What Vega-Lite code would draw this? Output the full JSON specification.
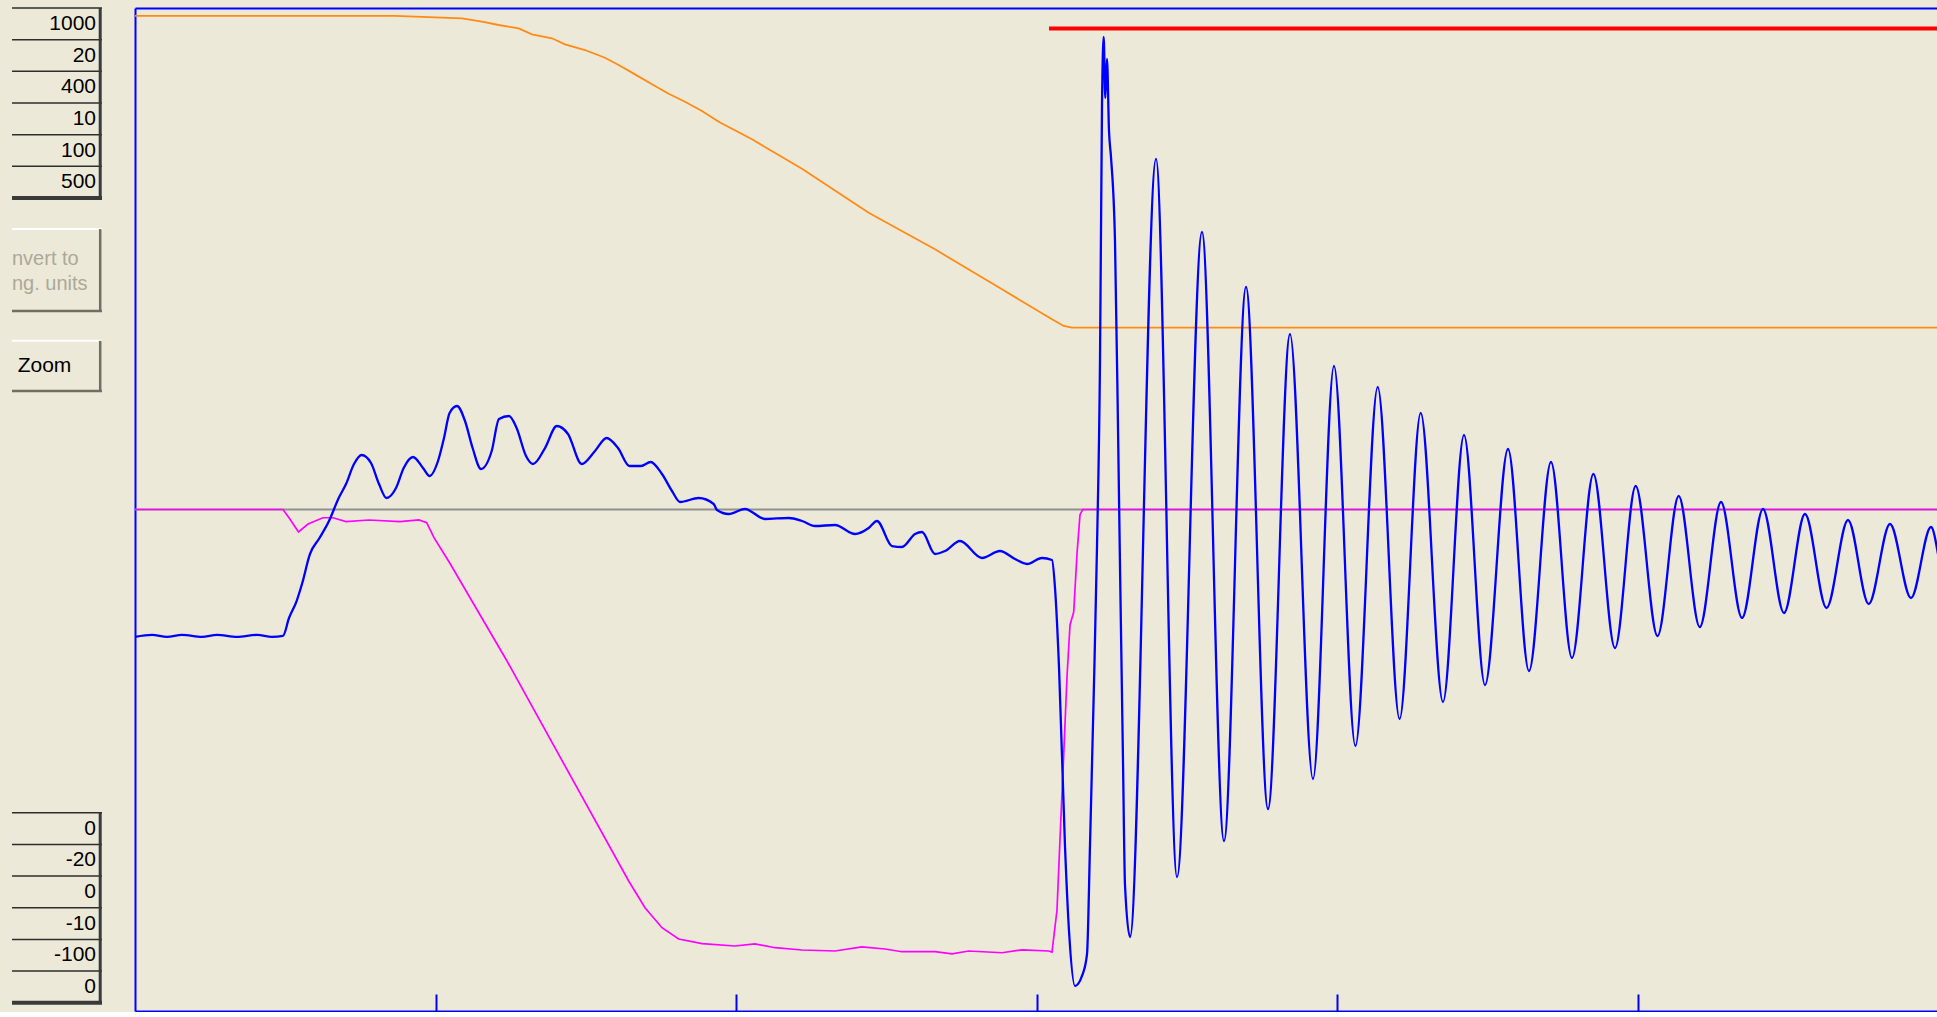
{
  "$schema": "https://vega.github.io/schema/vega-lite/v6.json",
  "background": "#ECE9D8",
  "padding": {"left": 10, "top": 6, "right": 0, "bottom": 0},
  "spacing": 33,
  "bounds": "flush",
  "config": {"view": {"stroke": null}},
  "resolve": {"scale": {"x": "independent", "y": "independent"}},
  "datasets": {
    "fields": [
      {"label": "1000", "s0": 0, "s1": 1, "sm": 0.5},
      {"label": "20", "s0": 1, "s1": 2, "sm": 1.5},
      {"label": "400", "s0": 2, "s1": 3, "sm": 2.5},
      {"label": "10", "s0": 3, "s1": 4, "sm": 3.5},
      {"label": "100", "s0": 4, "s1": 5, "sm": 4.5},
      {"label": "500", "s0": 5, "s1": 6, "sm": 5.5},
      {"label": "0", "s0": 25.41, "s1": 26.41, "sm": 25.91},
      {"label": "-20", "s0": 26.41, "s1": 27.41, "sm": 26.91},
      {"label": "0", "s0": 27.41, "s1": 28.41, "sm": 27.91},
      {"label": "-10", "s0": 28.41, "s1": 29.41, "sm": 28.91},
      {"label": "-100", "s0": 29.41, "s1": 30.41, "sm": 29.91},
      {"label": "0", "s0": 30.41, "s1": 31.41, "sm": 30.91}
    ],
    "groups": [
      {"s0": 0, "s1": 6},
      {"s0": 25.41, "s1": 31.41}
    ],
    "buttons": [
      {"name": "convert", "text": ["nvert to", "ng. units"], "s0": 6.98, "s1": 9.57, "sm": 7.93},
      {"name": "zoom", "text": "Zoom", "s0": 10.51, "s1": 12.09, "sm": 11.3}
    ],
    "baseline": [{"v": 0}],
    "marker": [{"t0": 3.0416, "t1": 6, "v": 95.9}],
    "orange": [
      {"t": 0, "v": 98.41}, {"t": 0.8652, "v": 98.41}, {"t": 1.0882, "v": 97.95}, {"t": 1.1547, "v": 97.27},
      {"t": 1.2103, "v": 96.61}, {"t": 1.2769, "v": 95.95}, {"t": 1.3211, "v": 94.75}, {"t": 1.3877, "v": 93.96},
      {"t": 1.4309, "v": 92.76}, {"t": 1.4975, "v": 91.62}, {"t": 1.5641, "v": 90.09}, {"t": 1.6096, "v": 88.63},
      {"t": 1.6639, "v": 86.77}, {"t": 1.7205, "v": 84.78}, {"t": 1.776, "v": 82.91}, {"t": 1.8303, "v": 81.31},
      {"t": 1.8869, "v": 79.46}, {"t": 1.9424, "v": 77.33}, {"t": 2.0532, "v": 73.82}, {"t": 2.2196, "v": 67.96},
      {"t": 2.4416, "v": 59.18}, {"t": 2.6622, "v": 51.88}, {"t": 2.8852, "v": 43.91}, {"t": 3.0516, "v": 37.93},
      {"t": 3.0905, "v": 36.59}, {"t": 3.1181, "v": 36.25}, {"t": 6, "v": 36.25}
    ],
    "magenta": [
      {"t": 0, "v": 0}, {"t": 0.4925, "v": 0}, {"t": 0.5125, "v": -1.64}, {"t": 0.5441, "v": -4.49},
      {"t": 0.5757, "v": -2.89}, {"t": 0.6256, "v": -1.64}, {"t": 0.6589, "v": -1.64}, {"t": 0.7022, "v": -2.43},
      {"t": 0.7787, "v": -2.09}, {"t": 0.8819, "v": -2.43}, {"t": 0.9451, "v": -2.09}, {"t": 0.9707, "v": -2.63},
      {"t": 0.995, "v": -5.62}, {"t": 1.0469, "v": -10.61}, {"t": 1.2379, "v": -30.21}, {"t": 1.6429, "v": -74.08},
      {"t": 1.6972, "v": -79.4}, {"t": 1.7537, "v": -83.39}, {"t": 1.8093, "v": -85.64}, {"t": 1.8869, "v": -86.58},
      {"t": 1.9967, "v": -87.04}, {"t": 2.063, "v": -86.6}, {"t": 2.1298, "v": -87.38}, {"t": 2.2196, "v": -87.84},
      {"t": 2.3295, "v": -88.04}, {"t": 2.419, "v": -87.2}, {"t": 2.4958, "v": -87.64}, {"t": 2.5524, "v": -88.18},
      {"t": 2.6622, "v": -88.18}, {"t": 2.719, "v": -88.6}, {"t": 2.7744, "v": -88.04}, {"t": 2.8852, "v": -88.38},
      {"t": 2.952, "v": -87.8}, {"t": 3.0406, "v": -88.04}, {"t": 3.0516, "v": -88.24}, {"t": 3.0682, "v": -79.86},
      {"t": 3.0782, "v": -65.7}, {"t": 3.0905, "v": -48.95}, {"t": 3.1015, "v": -33.4}, {"t": 3.1115, "v": -23.03},
      {"t": 3.1238, "v": -20.44}, {"t": 3.1348, "v": -8.81}, {"t": 3.1448, "v": -1.02}, {"t": 3.1537, "v": 0},
      {"t": 6, "v": 0}
    ],
    "blue": [
      {"t": 0, "v": -25.4}, {"t": 0.0566, "v": -25.0}, {"t": 0.1065, "v": -25.4}, {"t": 0.1564, "v": -25.0},
      {"t": 0.223, "v": -25.4}, {"t": 0.2729, "v": -25.0}, {"t": 0.3394, "v": -25.4}, {"t": 0.406, "v": -25.0},
      {"t": 0.4559, "v": -25.4}, {"t": 0.4925, "v": -25.2},
      {"t": 0.5125, "v": -21.64}, {"t": 0.5378, "v": -18.25}, {"t": 0.5557, "v": -14.86}, {"t": 0.5824, "v": -8.87},
      {"t": 0.614, "v": -5.68}, {"t": 0.6456, "v": -2.29}, {"t": 0.6779, "v": 2.29}, {"t": 0.7022, "v": 5.08},
      {"t": 0.7288, "v": 9.07}, {"t": 0.7541, "v": 10.87}, {"t": 0.7854, "v": 9.27}, {"t": 0.812, "v": 5.08},
      {"t": 0.8369, "v": 2.29}, {"t": 0.8686, "v": 4.29}, {"t": 0.8942, "v": 8.28}, {"t": 0.9251, "v": 10.47},
      {"t": 0.9584, "v": 8.28}, {"t": 0.9807, "v": 6.68}, {"t": 1.0083, "v": 9.67}, {"t": 1.0283, "v": 14.26},
      {"t": 1.0469, "v": 19.24}, {"t": 1.0715, "v": 20.64}, {"t": 1.0982, "v": 17.65}, {"t": 1.1235, "v": 12.26},
      {"t": 1.1514, "v": 8.08}, {"t": 1.187, "v": 11.67}, {"t": 1.2113, "v": 18.05}, {"t": 1.2446, "v": 18.64},
      {"t": 1.2699, "v": 16.25}, {"t": 1.3012, "v": 10.67}, {"t": 1.3245, "v": 9.07}, {"t": 1.3644, "v": 12.26},
      {"t": 1.4037, "v": 16.65}, {"t": 1.4409, "v": 15.06}, {"t": 1.4865, "v": 9.07}, {"t": 1.5308, "v": 11.67},
      {"t": 1.5694, "v": 14.26}, {"t": 1.6073, "v": 12.26}, {"t": 1.6456, "v": 8.67}, {"t": 1.6839, "v": 8.67},
      {"t": 1.7158, "v": 9.47}, {"t": 1.7537, "v": 7.08}, {"t": 1.787, "v": 3.69}, {"t": 1.8136, "v": 1.5},
      {"t": 1.8759, "v": 2.29}, {"t": 1.9258, "v": 1.1}, {"t": 1.9368, "v": -0.1}, {"t": 1.9757, "v": -0.9},
      {"t": 2.03, "v": 0.1}, {"t": 2.0965, "v": -1.89}, {"t": 2.1754, "v": -1.69}, {"t": 2.2196, "v": -2.29},
      {"t": 2.2629, "v": -3.29}, {"t": 2.3295, "v": -3.09}, {"t": 2.396, "v": -4.89}, {"t": 2.4416, "v": -3.69},
      {"t": 2.4691, "v": -2.29}, {"t": 2.5191, "v": -7.28}, {"t": 2.5524, "v": -7.48}, {"t": 2.5957, "v": -4.89},
      {"t": 2.619, "v": -4.49}, {"t": 2.6622, "v": -8.87}, {"t": 2.6955, "v": -8.28}, {"t": 2.7454, "v": -6.28},
      {"t": 2.8186, "v": -9.67}, {"t": 2.8785, "v": -8.28}, {"t": 2.9285, "v": -9.87}, {"t": 2.9684, "v": -10.87},
      {"t": 3.0183, "v": -9.67}, {"t": 3.0516, "v": -10.07}, {"t": 3.0616, "v": -15.65}, {"t": 3.0749, "v": -31.41},
      {"t": 3.0948, "v": -67.1}, {"t": 3.1082, "v": -84.05}, {"t": 3.1281, "v": -95.02}, {"t": 3.1514, "v": -93.02},
      {"t": 3.1681, "v": -88.64}, {"t": 3.178, "v": -67.1}, {"t": 3.1913, "v": -34.8}, {"t": 3.2013, "v": -7.48},
      {"t": 3.2113, "v": 29.41}, {"t": 3.218, "v": 80.66}, {"t": 3.2236, "v": 94.22}, {"t": 3.229, "v": 82.06},
      {"t": 3.2346, "v": 89.83}, {"t": 3.2413, "v": 75.48}, {"t": 3.2479, "v": 70.29}, {"t": 3.2612, "v": 53.54},
      {"t": 3.2712, "v": 16.45}, {"t": 3.2779, "v": -11.47}, {"t": 3.2879, "v": -50.35}, {"t": 3.2945, "v": -74.88},
      {"t": 3.3112, "v": -85.25},
      {"t": 3.3977, "v": 69.89}, {"t": 3.4676, "v": -73.28}, {"t": 3.5507, "v": 55.33}, {"t": 3.624, "v": -66.1},
      {"t": 3.6972, "v": 44.37}, {"t": 3.7704, "v": -59.72}, {"t": 3.8436, "v": 34.99}, {"t": 3.9201, "v": -53.74},
      {"t": 3.99, "v": 28.61}, {"t": 4.0612, "v": -47.16}, {"t": 4.1354, "v": 24.43}, {"t": 4.2083, "v": -41.77},
      {"t": 4.2785, "v": 19.24}, {"t": 4.3527, "v": -38.38}, {"t": 4.4226, "v": 14.86}, {"t": 4.4925, "v": -34.99},
      {"t": 4.5691, "v": 12.06}, {"t": 4.6389, "v": -32.2}, {"t": 4.7121, "v": 9.47}, {"t": 4.782, "v": -29.61},
      {"t": 4.8532, "v": 7.08}, {"t": 4.9251, "v": -27.62}, {"t": 4.994, "v": 4.69}, {"t": 5.0666, "v": -25.22},
      {"t": 5.1371, "v": 2.69}, {"t": 5.2073, "v": -23.43}, {"t": 5.2779, "v": 1.5}, {"t": 5.3478, "v": -21.63},
      {"t": 5.4176, "v": 0.1}, {"t": 5.4875, "v": -20.64}, {"t": 5.5574, "v": -0.9}, {"t": 5.629, "v": -19.64},
      {"t": 5.7005, "v": -2.09}, {"t": 5.7694, "v": -18.84}, {"t": 5.8403, "v": -2.89}, {"t": 5.9101, "v": -17.65},
      {"t": 5.9767, "v": -3.49}, {"t": 6, "v": -8.87}
    ]
  },
  "hconcat": [
    {
      "width": 90,
      "height": 1003,
      "layer": [
        {
          "data": {"name": "fields"},
          "mark": {"type": "rule", "color": "#2e2e2e", "strokeWidth": 1.5},
          "encoding": {
            "y": {"field": "s0", "type": "quantitative", "scale": {"domain": [0, 31.67], "reverse": true, "nice": false, "zero": false}, "axis": null}
          }
        },
        {
          "data": {"name": "groups"},
          "mark": {"type": "rule", "color": "#3a3a3a", "strokeWidth": 4},
          "encoding": {
            "y": {"field": "s1", "type": "quantitative", "scale": {"domain": [0, 31.67], "reverse": true, "nice": false, "zero": false}, "axis": null}
          }
        },
        {
          "data": {"name": "groups"},
          "mark": {"type": "rule", "color": "#3a3a3a", "strokeWidth": 3},
          "encoding": {
            "x": {"datum": 0.98, "type": "quantitative", "scale": {"domain": [0, 1], "nice": false, "zero": false}, "axis": null},
            "y": {"field": "s0", "type": "quantitative", "scale": {"domain": [0, 31.67], "reverse": true, "nice": false, "zero": false}, "axis": null},
            "y2": {"field": "s1"}
          }
        },
        {
          "data": {"name": "fields"},
          "mark": {"type": "text", "align": "right", "baseline": "middle", "dx": -6, "font": "Liberation Sans", "fontSize": 21, "color": "#000000"},
          "encoding": {
            "x": {"datum": 1, "type": "quantitative", "scale": {"domain": [0, 1], "nice": false, "zero": false}, "axis": null},
            "y": {"field": "sm", "type": "quantitative", "scale": {"domain": [0, 31.67], "reverse": true, "nice": false, "zero": false}, "axis": null},
            "text": {"field": "label", "type": "nominal"}
          }
        },
        {
          "data": {"name": "buttons"},
          "mark": {"type": "rule", "color": "#ffffff", "strokeWidth": 2},
          "encoding": {
            "y": {"field": "s0", "type": "quantitative", "scale": {"domain": [0, 31.67], "reverse": true, "nice": false, "zero": false}, "axis": null}
          }
        },
        {
          "data": {"name": "buttons"},
          "mark": {"type": "rule", "color": "#716F64", "strokeWidth": 2.5},
          "encoding": {
            "y": {"field": "s1", "type": "quantitative", "scale": {"domain": [0, 31.67], "reverse": true, "nice": false, "zero": false}, "axis": null}
          }
        },
        {
          "data": {"name": "buttons"},
          "mark": {"type": "rule", "color": "#716F64", "strokeWidth": 2.5},
          "encoding": {
            "x": {"datum": 0.98, "type": "quantitative", "scale": {"domain": [0, 1], "nice": false, "zero": false}, "axis": null},
            "y": {"field": "s0", "type": "quantitative", "scale": {"domain": [0, 31.67], "reverse": true, "nice": false, "zero": false}, "axis": null},
            "y2": {"field": "s1"}
          }
        },
        {
          "data": {"name": "buttons"},
          "transform": [{"filter": "datum.name === 'convert'"}],
          "mark": {"type": "text", "align": "left", "baseline": "middle", "font": "Liberation Sans", "fontSize": 20, "lineHeight": 25, "color": "#ACA899"},
          "encoding": {
            "x": {"datum": 0, "type": "quantitative", "scale": {"domain": [0, 1], "nice": false, "zero": false}, "axis": null},
            "y": {"field": "sm", "type": "quantitative", "scale": {"domain": [0, 31.67], "reverse": true, "nice": false, "zero": false}, "axis": null},
            "text": {"field": "text"}
          }
        },
        {
          "data": {"name": "buttons"},
          "transform": [{"filter": "datum.name === 'zoom'"}],
          "mark": {"type": "text", "align": "center", "baseline": "middle", "font": "Liberation Sans", "fontSize": 21, "color": "#000000"},
          "encoding": {
            "x": {"datum": 0.361, "type": "quantitative", "scale": {"domain": [0, 1], "nice": false, "zero": false}, "axis": null},
            "y": {"field": "sm", "type": "quantitative", "scale": {"domain": [0, 31.67], "reverse": true, "nice": false, "zero": false}, "axis": null},
            "text": {"field": "text"}
          }
        }
      ]
    },
    {
      "width": 1803,
      "height": 1003,
      "resolve": {"axis": {"x": "independent"}},
      "layer": [
        {
          "data": {"name": "baseline"},
          "mark": {"type": "rule", "color": "#909090", "strokeWidth": 2},
          "encoding": {
            "y": {"field": "v", "type": "quantitative", "scale": {"domain": [-100, 100], "nice": false, "zero": false},
                  "axis": {"title": null, "labels": false, "grid": false, "ticks": false, "domainColor": "#0000FF", "domainWidth": 2}}
          }
        },
        {
          "data": {"name": "marker"},
          "mark": {"type": "rule", "color": "#FF0000", "strokeWidth": 4},
          "encoding": {
            "x": {"field": "t0", "type": "quantitative", "scale": {"domain": [0, 6], "nice": false, "zero": false},
                  "axis": {"orient": "top", "title": null, "labels": false, "grid": false, "ticks": false, "domainColor": "#0000FF", "domainWidth": 2}},
            "x2": {"field": "t1"},
            "y": {"field": "v", "type": "quantitative", "scale": {"domain": [-100, 100], "nice": false, "zero": false},
                  "axis": {"title": null, "labels": false, "grid": false, "ticks": false, "domainColor": "#0000FF", "domainWidth": 2}}
          }
        },
        {
          "data": {"name": "orange"},
          "mark": {"type": "line", "color": "#FF8A14", "strokeWidth": 1.8},
          "encoding": {
            "x": {"field": "t", "type": "quantitative", "scale": {"domain": [0, 6], "nice": false, "zero": false},
                  "axis": {"orient": "bottom", "title": null, "labels": false, "grid": false, "values": [1, 2, 3, 4, 5], "ticks": true, "tickSize": -17, "tickWidth": 2, "tickColor": "#0000FF", "domainColor": "#0000FF", "domainWidth": 2}},
            "y": {"field": "v", "type": "quantitative", "scale": {"domain": [-100, 100], "nice": false, "zero": false},
                  "axis": {"title": null, "labels": false, "grid": false, "ticks": false, "domainColor": "#0000FF", "domainWidth": 2}}
          }
        },
        {
          "data": {"name": "magenta"},
          "mark": {"type": "line", "color": "#FF00FF", "strokeWidth": 1.7},
          "encoding": {
            "x": {"field": "t", "type": "quantitative", "scale": {"domain": [0, 6], "nice": false, "zero": false}, "axis": null},
            "y": {"field": "v", "type": "quantitative", "scale": {"domain": [-100, 100], "nice": false, "zero": false},
                  "axis": {"title": null, "labels": false, "grid": false, "ticks": false, "domainColor": "#0000FF", "domainWidth": 2}}
          }
        },
        {
          "data": {"name": "blue"},
          "mark": {"type": "line", "color": "#0000FF", "strokeWidth": 2.3, "interpolate": "monotone"},
          "encoding": {
            "x": {"field": "t", "type": "quantitative", "scale": {"domain": [0, 6], "nice": false, "zero": false}, "axis": null},
            "y": {"field": "v", "type": "quantitative", "scale": {"domain": [-100, 100], "nice": false, "zero": false},
                  "axis": {"title": null, "labels": false, "grid": false, "ticks": false, "domainColor": "#0000FF", "domainWidth": 2}}
          }
        }
      ]
    }
  ]
}
